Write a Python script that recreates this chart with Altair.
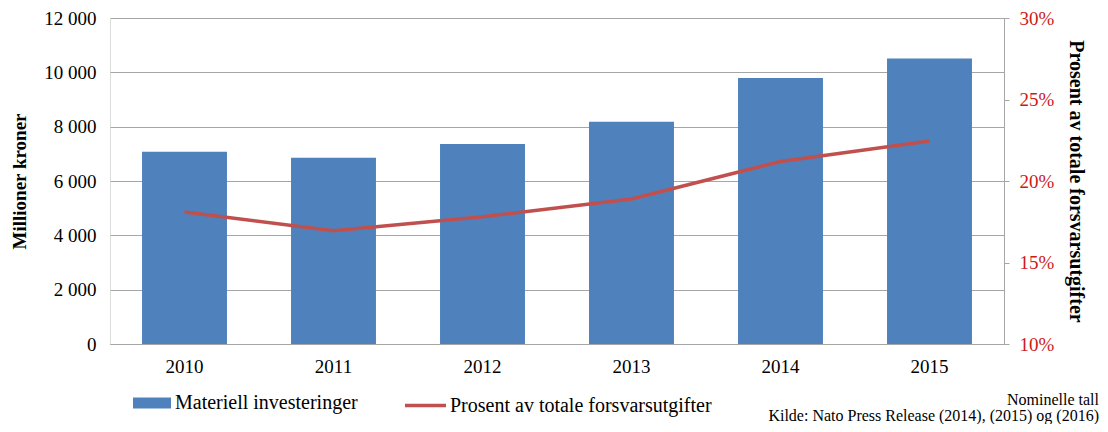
import altair as alt
import pandas as pd

years = ["2010", "2011", "2012", "2013", "2014", "2015"]
investments = [7080, 6860, 7360, 8180, 9790, 10510]
share = [0.181, 0.1695, 0.178, 0.189, 0.212, 0.2245]
bar_label = "Materiell investeringer"
line_label = "Prosent av totale forsvarsutgifter"

df = pd.DataFrame({
    "year": years,
    "inv": investments,
    "share": share,
    "s1": [bar_label] * len(years),
    "s2": [line_label] * len(years),
})

FONT = "Liberation Serif"
GRID = "#a6a6a6"
BLUE = "#4f81bd"
RED = "#c0504d"
LABEL_RED = "#cc1a1a"

x = alt.X("year:N", title=None,
          scale=alt.Scale(paddingInner=0.43, paddingOuter=0.215),
          axis=alt.Axis(labelAngle=0, labelFont=FONT, labelFontSize=19, labelColor="#000000",
                        ticks=False, domainColor=GRID, labelPadding=13))

bars = alt.Chart(df).mark_bar(color=BLUE).encode(
    x=x,
    y=alt.Y("inv:Q", title="Millioner  kroner",
            scale=alt.Scale(domain=[0, 12000], nice=False),
            axis=alt.Axis(values=[0, 2000, 4000, 6000, 8000, 10000, 12000],
                          labelExpr="replace(format(datum.value, ','), ',', ' ')",
                          orient="left", grid=True, gridColor=GRID, ticks=False, domain=False,
                          labelFont=FONT, labelFontSize=19, labelColor="#000000", labelPadding=14,
                          titleFont=FONT, titleFontSize=19, titleFontWeight="bold",
                          titleColor="#000000", titlePadding=14)),
    color=alt.Color("s1:N", scale=alt.Scale(domain=[bar_label], range=[BLUE]),
                    legend=alt.Legend(title=None, orient="none", legendX=22, legendY=365,
                                      symbolType="M-1,-0.29H1V0.29H-1Z", symbolSize=1444,
                                      symbolOpacity=1, labelFont=FONT, labelFontSize=20,
                                      labelColor="#000000", labelOffset=3, labelLimit=0,
                                      padding=0)),
)

line = alt.Chart(df).mark_line(strokeWidth=3.5, color=RED).encode(
    x=x,
    y=alt.Y("share:Q", title=line_label,
            scale=alt.Scale(domain=[0.10, 0.30], nice=False),
            axis=alt.Axis(values=[0.10, 0.15, 0.20, 0.25, 0.30], format=".0%",
                          orient="right", grid=False, ticks=True, tickSize=5, tickColor=GRID,
                          domain=True, domainColor=GRID,
                          labelFont=FONT, labelFontSize=19, labelColor=LABEL_RED, labelPadding=10,
                          titleFont=FONT, titleFontSize=20, titleFontWeight="bold",
                          titleColor="#000000", titlePadding=12)),
    stroke=alt.Stroke("s2:N", scale=alt.Scale(domain=[line_label], range=[RED]),
                      legend=alt.Legend(title=None, orient="none", legendX=293, legendY=365,
                                        symbolType="stroke", symbolSize=1681, symbolStrokeWidth=3.5,
                                        labelFont=FONT, labelFontSize=20, labelColor="#000000",
                                        labelOffset=2, labelLimit=0, padding=0)),
)

chart = alt.layer(bars, line).resolve_scale(
    y="independent", color="independent", stroke="independent"
).properties(
    width=894,
    height=326,
    autosize=alt.AutoSizeParams(type="none"),
    padding={"left": 102, "top": 10, "right": 96, "bottom": 80},
    title=alt.TitleParams(
        text="Nominelle tall",
        subtitle="Kilde: Nato Press Release (2014), (2015) og (2016)",
        orient="bottom", anchor="end", frame="group", dx=95, offset=-24,
        font=FONT, fontSize=16, fontWeight="normal", color="#000000",
        subtitleFont=FONT, subtitleFontSize=16, subtitleColor="#000000", subtitlePadding=0,
    ),
).configure_view(stroke=None).configure(background="white")

chart.save("out.html", embed_options={"renderer": "svg", "actions": False})
